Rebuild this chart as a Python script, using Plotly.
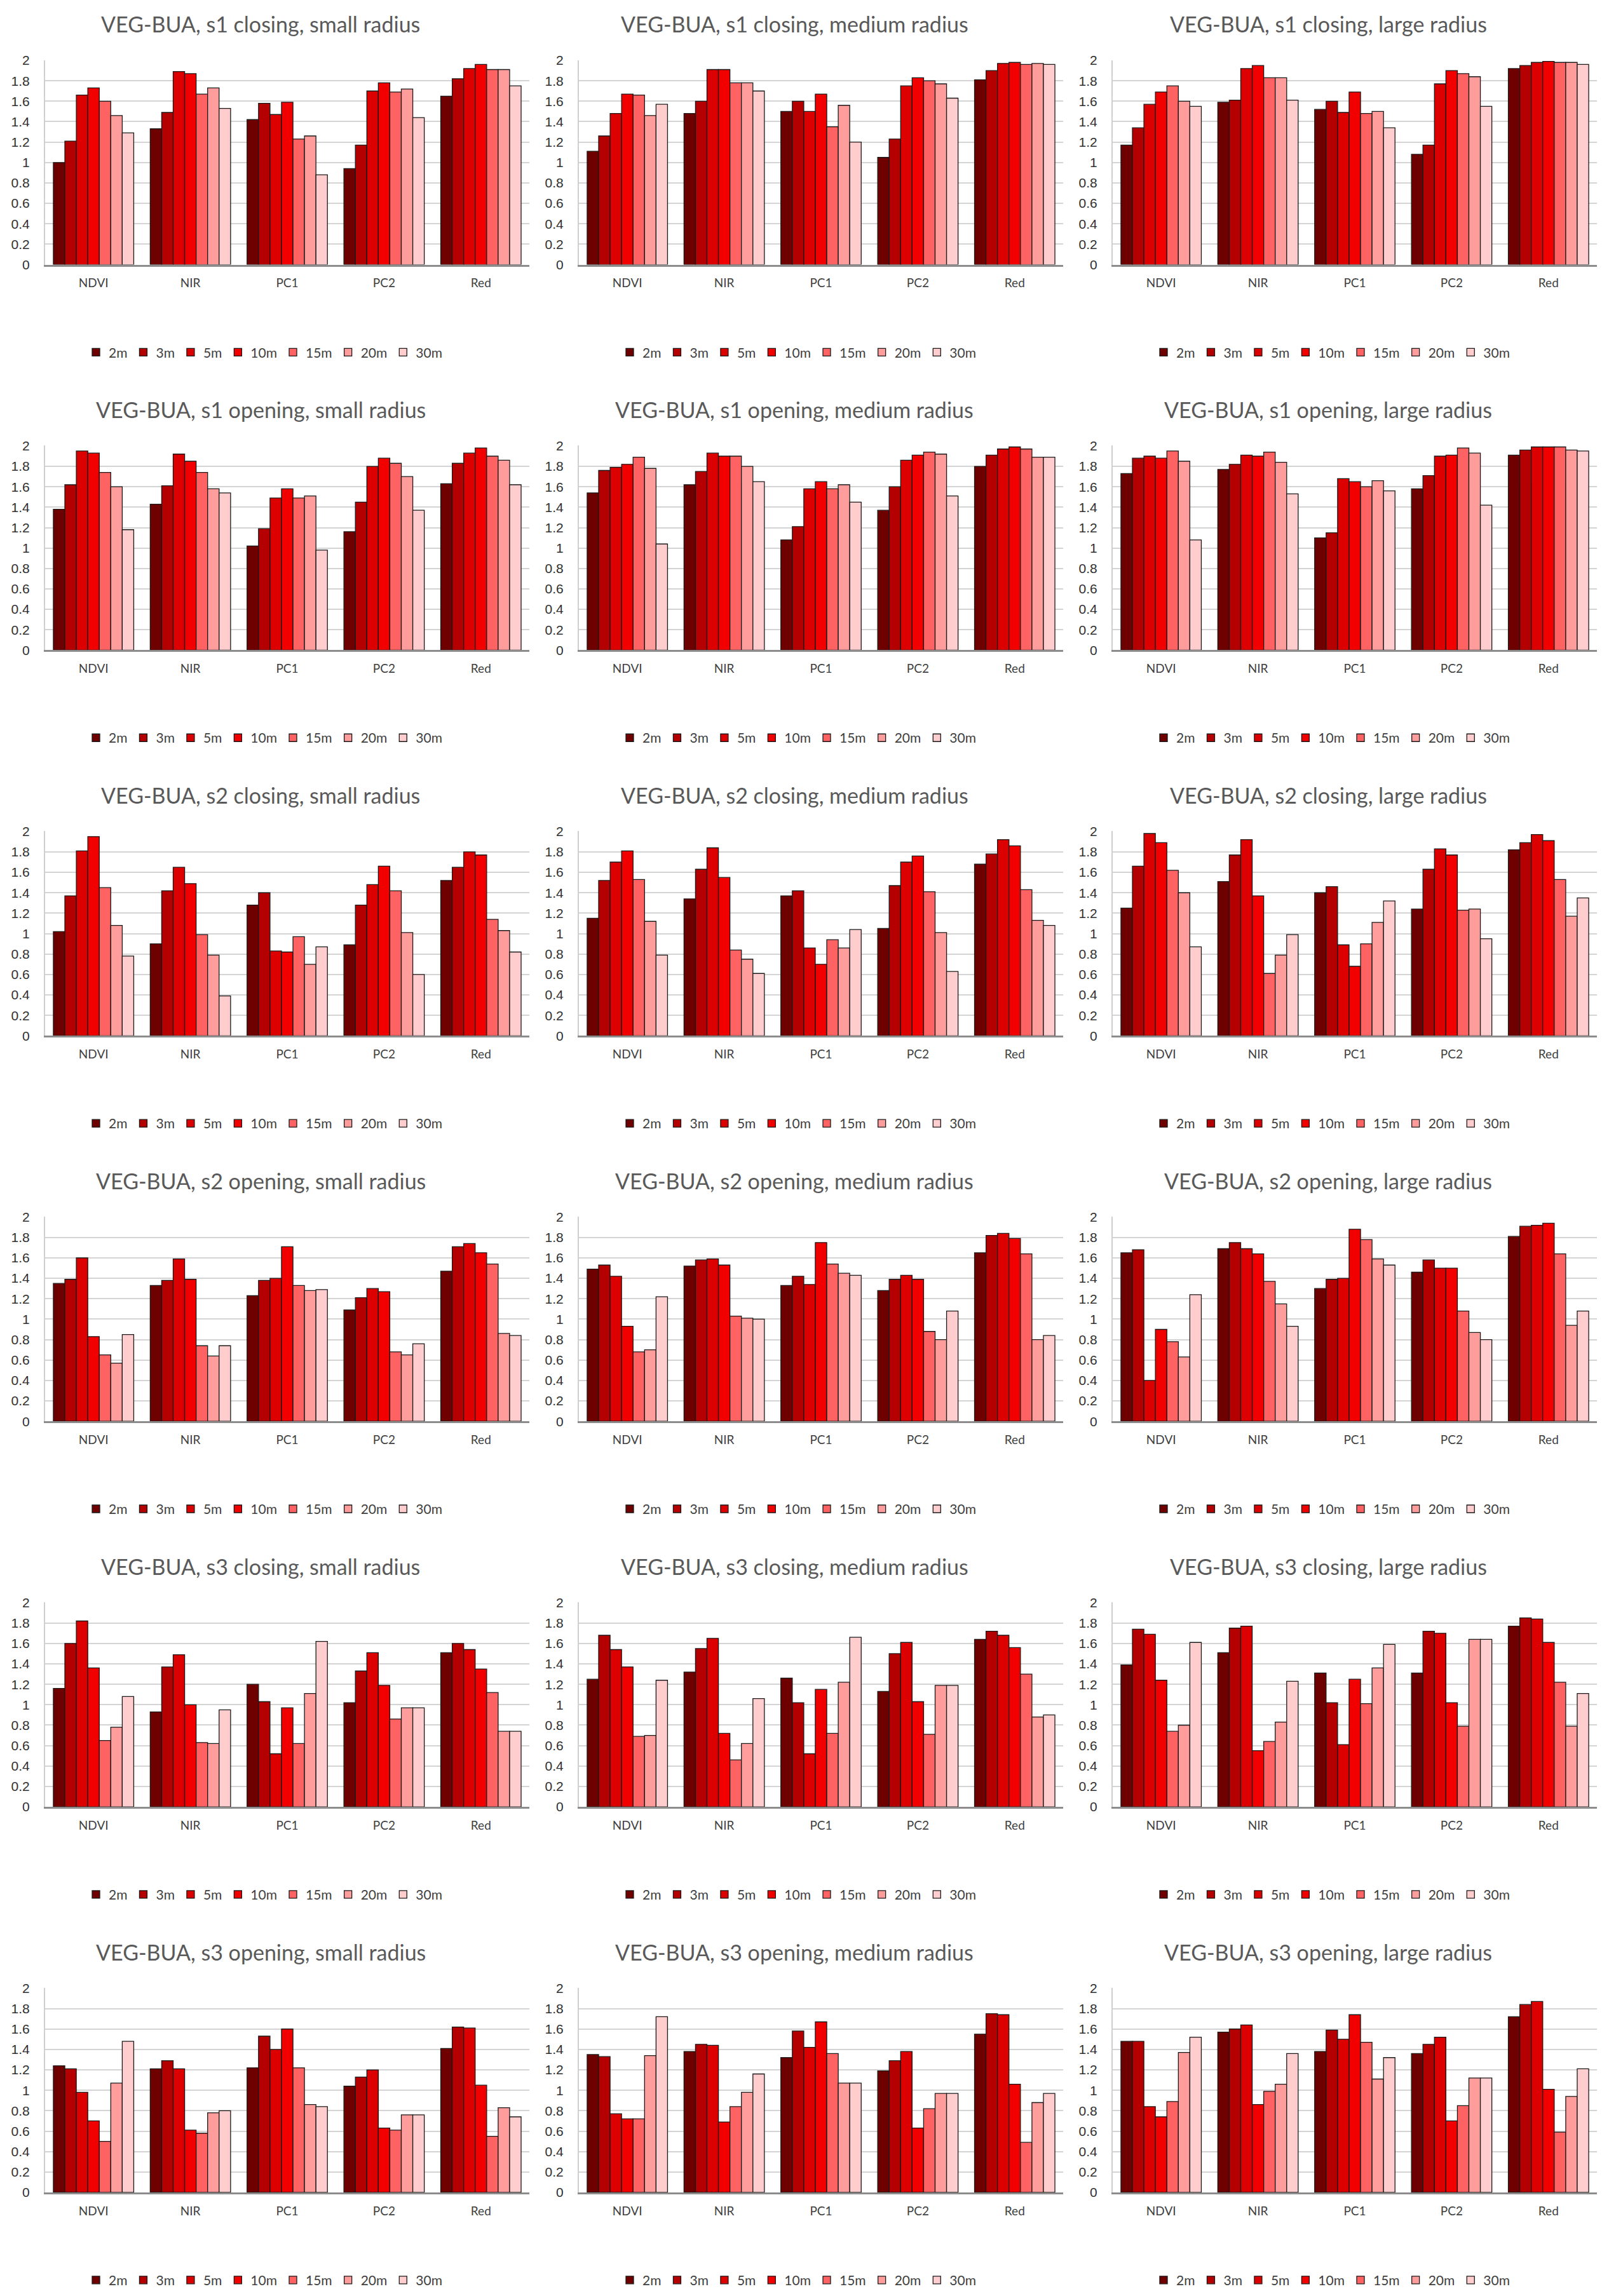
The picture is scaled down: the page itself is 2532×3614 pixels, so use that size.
import plotly.graph_objects as go

#%% DATA
categorias = ['NDVI', 'NIR', 'PC1', 'PC2', 'Red']
radios = ['2m', '3m', '5m', '10m', '15m', '20m', '30m']
colores = ['#6E0000', '#B40000', '#DC0000', '#F20000', '#FF6262', '#FF9C9C', '#FFCDCD']
y_ticks = [0, 0.2, 0.4, 0.6, 0.8, 1, 1.2, 1.4, 1.6, 1.8, 2]
y_labels = ['0', '0.2', '0.4', '0.6', '0.8', '1', '1.2', '1.4', '1.6', '1.8', '2']

# each row: one category (NDVI, NIR, PC1, PC2, Red), values for 2m..30m
s1_closing_small = [
    [1.00, 1.21, 1.66, 1.73, 1.60, 1.46, 1.29],
    [1.33, 1.49, 1.89, 1.87, 1.67, 1.73, 1.53],
    [1.42, 1.58, 1.47, 1.59, 1.23, 1.26, 0.88],
    [0.94, 1.17, 1.70, 1.78, 1.69, 1.72, 1.44],
    [1.65, 1.82, 1.92, 1.96, 1.91, 1.91, 1.75],
]
s1_closing_medium = [
    [1.11, 1.26, 1.48, 1.67, 1.66, 1.46, 1.57],
    [1.48, 1.60, 1.91, 1.91, 1.78, 1.78, 1.70],
    [1.50, 1.60, 1.50, 1.67, 1.35, 1.56, 1.20],
    [1.05, 1.23, 1.75, 1.83, 1.80, 1.77, 1.63],
    [1.81, 1.90, 1.97, 1.98, 1.96, 1.97, 1.96],
]
s1_closing_large = [
    [1.17, 1.34, 1.57, 1.69, 1.75, 1.60, 1.55],
    [1.59, 1.61, 1.92, 1.95, 1.83, 1.83, 1.61],
    [1.52, 1.60, 1.49, 1.69, 1.48, 1.50, 1.34],
    [1.08, 1.17, 1.77, 1.90, 1.87, 1.84, 1.55],
    [1.92, 1.95, 1.98, 1.99, 1.98, 1.98, 1.96],
]
s1_opening_small = [
    [1.38, 1.62, 1.95, 1.93, 1.74, 1.60, 1.18],
    [1.43, 1.61, 1.92, 1.85, 1.74, 1.58, 1.54],
    [1.02, 1.19, 1.49, 1.58, 1.49, 1.51, 0.98],
    [1.16, 1.45, 1.80, 1.88, 1.83, 1.70, 1.37],
    [1.63, 1.83, 1.93, 1.98, 1.90, 1.86, 1.62],
]
s1_opening_medium = [
    [1.54, 1.76, 1.79, 1.82, 1.89, 1.78, 1.04],
    [1.62, 1.75, 1.93, 1.90, 1.90, 1.80, 1.65],
    [1.08, 1.21, 1.58, 1.65, 1.58, 1.62, 1.45],
    [1.37, 1.60, 1.86, 1.91, 1.94, 1.92, 1.51],
    [1.80, 1.91, 1.97, 1.99, 1.97, 1.89, 1.89],
]
s1_opening_large = [
    [1.73, 1.88, 1.90, 1.88, 1.95, 1.85, 1.08],
    [1.77, 1.82, 1.91, 1.90, 1.94, 1.84, 1.53],
    [1.10, 1.15, 1.68, 1.65, 1.60, 1.66, 1.56],
    [1.58, 1.71, 1.90, 1.91, 1.98, 1.93, 1.42],
    [1.91, 1.96, 1.99, 1.99, 1.99, 1.96, 1.95],
]
s2_closing_small = [
    [1.02, 1.37, 1.81, 1.95, 1.45, 1.08, 0.78],
    [0.90, 1.42, 1.65, 1.49, 0.99, 0.79, 0.39],
    [1.28, 1.40, 0.83, 0.82, 0.97, 0.70, 0.87],
    [0.89, 1.28, 1.48, 1.66, 1.42, 1.01, 0.60],
    [1.52, 1.65, 1.80, 1.77, 1.14, 1.03, 0.82],
]
s2_closing_medium = [
    [1.15, 1.52, 1.70, 1.81, 1.53, 1.12, 0.79],
    [1.34, 1.63, 1.84, 1.55, 0.84, 0.75, 0.61],
    [1.37, 1.42, 0.86, 0.70, 0.94, 0.86, 1.04],
    [1.05, 1.47, 1.70, 1.76, 1.41, 1.01, 0.63],
    [1.68, 1.78, 1.92, 1.86, 1.43, 1.13, 1.08],
]
s2_closing_large = [
    [1.25, 1.66, 1.98, 1.89, 1.62, 1.40, 0.87],
    [1.51, 1.77, 1.92, 1.37, 0.61, 0.79, 0.99],
    [1.40, 1.46, 0.89, 0.68, 0.90, 1.11, 1.32],
    [1.24, 1.63, 1.83, 1.77, 1.23, 1.24, 0.95],
    [1.82, 1.89, 1.97, 1.91, 1.53, 1.17, 1.35],
]
s2_opening_small = [
    [1.35, 1.39, 1.60, 0.83, 0.65, 0.57, 0.85],
    [1.33, 1.38, 1.59, 1.39, 0.74, 0.64, 0.74],
    [1.23, 1.38, 1.40, 1.71, 1.33, 1.28, 1.29],
    [1.09, 1.21, 1.30, 1.27, 0.68, 0.65, 0.76],
    [1.47, 1.71, 1.74, 1.65, 1.54, 0.86, 0.84],
]
s2_opening_medium = [
    [1.49, 1.53, 1.42, 0.93, 0.68, 0.70, 1.22],
    [1.52, 1.58, 1.59, 1.53, 1.03, 1.01, 1.00],
    [1.33, 1.42, 1.34, 1.75, 1.54, 1.45, 1.43],
    [1.28, 1.39, 1.43, 1.39, 0.88, 0.80, 1.08],
    [1.65, 1.82, 1.84, 1.79, 1.64, 0.80, 0.84],
]
s2_opening_large = [
    [1.65, 1.68, 0.40, 0.90, 0.78, 0.63, 1.24],
    [1.69, 1.75, 1.69, 1.64, 1.37, 1.15, 0.93],
    [1.30, 1.39, 1.40, 1.88, 1.78, 1.59, 1.53],
    [1.46, 1.58, 1.50, 1.50, 1.08, 0.87, 0.80],
    [1.81, 1.91, 1.92, 1.94, 1.64, 0.94, 1.08],
]
s3_closing_small = [
    [1.16, 1.60, 1.82, 1.36, 0.65, 0.78, 1.08],
    [0.93, 1.37, 1.49, 1.00, 0.63, 0.62, 0.95],
    [1.20, 1.03, 0.52, 0.97, 0.62, 1.11, 1.62],
    [1.02, 1.33, 1.51, 1.19, 0.86, 0.97, 0.97],
    [1.51, 1.60, 1.54, 1.35, 1.12, 0.74, 0.74],
]
s3_closing_medium = [
    [1.25, 1.68, 1.54, 1.37, 0.69, 0.70, 1.24],
    [1.32, 1.55, 1.65, 0.72, 0.46, 0.62, 1.06],
    [1.26, 1.02, 0.52, 1.15, 0.72, 1.22, 1.66],
    [1.13, 1.50, 1.61, 1.03, 0.71, 1.19, 1.19],
    [1.64, 1.72, 1.68, 1.56, 1.30, 0.88, 0.90],
]
s3_closing_large = [
    [1.39, 1.74, 1.69, 1.24, 0.74, 0.80, 1.61],
    [1.51, 1.75, 1.77, 0.55, 0.64, 0.83, 1.23],
    [1.31, 1.02, 0.61, 1.25, 1.01, 1.36, 1.59],
    [1.31, 1.72, 1.70, 1.02, 0.79, 1.64, 1.64],
    [1.77, 1.85, 1.84, 1.61, 1.22, 0.79, 1.11],
]
s3_opening_small = [
    [1.24, 1.21, 0.98, 0.70, 0.50, 1.07, 1.48],
    [1.21, 1.29, 1.21, 0.61, 0.58, 0.78, 0.80],
    [1.22, 1.53, 1.40, 1.60, 1.22, 0.86, 0.84],
    [1.04, 1.13, 1.20, 0.63, 0.61, 0.76, 0.76],
    [1.41, 1.62, 1.61, 1.05, 0.55, 0.83, 0.74],
]
s3_opening_medium = [
    [1.35, 1.33, 0.77, 0.72, 0.72, 1.34, 1.72],
    [1.38, 1.45, 1.44, 0.69, 0.84, 0.98, 1.16],
    [1.32, 1.58, 1.42, 1.67, 1.36, 1.07, 1.07],
    [1.19, 1.29, 1.38, 0.63, 0.82, 0.97, 0.97],
    [1.55, 1.75, 1.74, 1.06, 0.49, 0.88, 0.97],
]
s3_opening_large = [
    [1.48, 1.48, 0.84, 0.74, 0.89, 1.37, 1.52],
    [1.57, 1.60, 1.64, 0.86, 0.99, 1.06, 1.36],
    [1.38, 1.59, 1.50, 1.74, 1.47, 1.11, 1.32],
    [1.36, 1.45, 1.52, 0.70, 0.85, 1.12, 1.12],
    [1.72, 1.84, 1.87, 1.01, 0.59, 0.94, 1.21],
]

paneles = [
    ('VEG-BUA, s1 closing, small radius', s1_closing_small),
    ('VEG-BUA, s1 closing, medium radius', s1_closing_medium),
    ('VEG-BUA, s1 closing, large radius', s1_closing_large),
    ('VEG-BUA, s1 opening, small radius', s1_opening_small),
    ('VEG-BUA, s1 opening, medium radius', s1_opening_medium),
    ('VEG-BUA, s1 opening, large radius', s1_opening_large),
    ('VEG-BUA, s2 closing, small radius', s2_closing_small),
    ('VEG-BUA, s2 closing, medium radius', s2_closing_medium),
    ('VEG-BUA, s2 closing, large radius', s2_closing_large),
    ('VEG-BUA, s2 opening, small radius', s2_opening_small),
    ('VEG-BUA, s2 opening, medium radius', s2_opening_medium),
    ('VEG-BUA, s2 opening, large radius', s2_opening_large),
    ('VEG-BUA, s3 closing, small radius', s3_closing_small),
    ('VEG-BUA, s3 closing, medium radius', s3_closing_medium),
    ('VEG-BUA, s3 closing, large radius', s3_closing_large),
    ('VEG-BUA, s3 opening, small radius', s3_opening_small),
    ('VEG-BUA, s3 opening, medium radius', s3_opening_medium),
    ('VEG-BUA, s3 opening, large radius', s3_opening_large),
]

#%% LAYOUT (pixels)
W, H = 2532, 3614
COL_STEP, ROW_STEP = 840, 610.6
PLOT_L, PLOT_R = 63, 825
PLOT_T, PLOT_B = 76, 400
TITLE_Y, LEGEND_Y = 19, 539
CENTER_X = 402

fig = go.Figure()
layout = {}
annots = []

for k, (titulo, datos) in enumerate(paneles):
    r, c = divmod(k, 3)
    n = '' if k == 0 else str(k + 1)
    leg = 'legend' + n
    for j, radio in enumerate(radios):
        fig.add_trace(go.Bar(
            x=categorias,
            y=[fila[j] for fila in datos],
            name=radio,
            marker_color=colores[j],
            marker_line_color='#1a1a1a',
            marker_line_width=1.3,
            xaxis='x' + n,
            yaxis='y' + n,
            legend=leg,
            hoverinfo='skip',
        ))

    x0 = (PLOT_L + COL_STEP * c) / W
    x1 = (PLOT_R + COL_STEP * c) / W
    y1 = 1 - (PLOT_T + ROW_STEP * r) / H
    y0 = 1 - (PLOT_B + ROW_STEP * r) / H

    layout['xaxis' + n] = dict(
        domain=[x0, x1], anchor='y' + n, type='category',
        showline=True, linecolor='#8c8c8c', linewidth=3,
        showgrid=False, ticks='', ticklabelstandoff=10,
        tickfont=dict(family='Lato', size=19, color='#404040'),
        fixedrange=True,
    )
    layout['yaxis' + n] = dict(
        domain=[y0, y1], anchor='x' + n, range=[0, 2.003],
        tickvals=y_ticks, ticktext=y_labels,
        showgrid=True, gridcolor='#d4d4d4', gridwidth=2,
        showline=True, linecolor='#cfcfcf', linewidth=2,
        zeroline=False, ticks='', ticklabelstandoff=18,
        tickfont=dict(family='Liberation Sans', size=21, color='#303030'),
        fixedrange=True,
    )
    layout[leg] = dict(
        x=(CENTER_X + 6 + COL_STEP * c) / W, xanchor='center',
        y=1 - (LEGEND_Y + ROW_STEP * r) / H, yanchor='middle',
        orientation='h', bgcolor='rgba(0,0,0,0)',
        font=dict(family='Lato', size=21, color='#404040'),
        itemclick=False, itemdoubleclick=False,
    )
    annots.append(dict(
        text=titulo, xref='paper', yref='paper',
        x=(CENTER_X + COL_STEP * c) / W, y=1 - (TITLE_Y + ROW_STEP * r) / H,
        xanchor='center', yanchor='middle', showarrow=False,
        font=dict(family='Lato', size=34, color='#595959'),
    ))

fig.update_layout(
    width=W, height=H,
    margin=dict(l=0, r=0, t=0, b=0),
    paper_bgcolor='white', plot_bgcolor='white',
    barmode='group', bargap=0.17, bargroupgap=0,
    annotations=annots,
    **layout
)

fig.write_html('out.html')
